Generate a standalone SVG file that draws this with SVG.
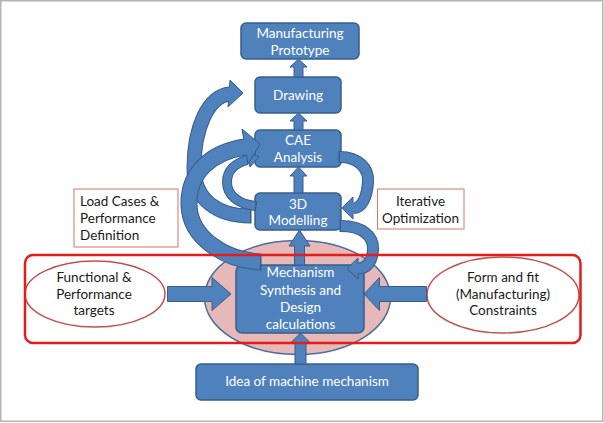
<svg xmlns="http://www.w3.org/2000/svg" width="604" height="423" viewBox="0 0 604 423">
<style>
.bx{fill:#4f81bd;stroke:#385d8a;stroke-width:1.5}
.wt{fill:#ffffff;font-family:Lato,"Liberation Sans",sans-serif;font-size:13.5px;text-anchor:middle}
.bt{fill:#1a1a1a;font-family:Lato,"Liberation Sans",sans-serif;font-size:13.5px}
.nt{fill:#ffffff;stroke:#d9736f;stroke-width:1}
.el{fill:#ffffff;stroke:#c0504d;stroke-width:1.5}
.ar{fill:#4f81bd;stroke:#385d8a;stroke-width:1;stroke-linejoin:round}
.ao{fill:none;stroke:#385d8a}
.ai{fill:none;stroke:#4f81bd}
</style>
<rect x="0" y="0" width="604" height="423" fill="#ffffff"/>
<rect x="0.75" y="0.75" width="602" height="420.5" fill="none" stroke="#b4b4b4" stroke-width="1.5"/>

<g id="core-zone">
<ellipse cx="297.5" cy="297.5" rx="93" ry="57" fill="#e6b9b8" stroke="#4a6c9e" stroke-width="1.5"/>
</g>

<g id="functional-targets">
<ellipse class="el" cx="95" cy="294" rx="70" ry="33"/>
<text class="bt" text-anchor="middle" x="94" y="281.5">Functional &amp;</text>
<text class="bt" text-anchor="middle" x="94" y="299">Performance</text>
<text class="bt" text-anchor="middle" x="94" y="315">targets</text>
</g>

<g id="form-fit-constraints">
<ellipse class="el" cx="503" cy="295" rx="76" ry="38"/>
<text class="bt" text-anchor="middle" x="503" y="281.5">Form and fit</text>
<text class="bt" text-anchor="middle" x="503" y="299">(Manufacturing)</text>
<text class="bt" text-anchor="middle" x="503" y="315">Constraints</text>
</g>

<g id="load-cases">
<rect class="nt" x="74" y="189" width="104" height="58"/>
<text class="bt" x="80" y="206">Load Cases &amp;</text>
<text class="bt" x="80" y="223">Performance</text>
<text class="bt" x="80" y="240">Definition</text>
</g>

<g id="iterative-optimization">
<rect class="nt" x="377.5" y="189" width="86.5" height="40"/>
<text class="bt" text-anchor="middle" x="420.5" y="206">Iterative</text>
<text class="bt" text-anchor="middle" x="420.5" y="223">Optimization</text>
</g>

<g id="manufacturing-prototype">
<rect class="bx" x="241" y="23" width="118" height="36" rx="5"/>
<text class="wt" x="300" y="38">Manufacturing</text>
<text class="wt" x="300" y="54.5">Prototype</text>
</g>

<g id="drawing">
<rect class="bx" x="255" y="77" width="86" height="36" rx="5"/>
<text class="wt" x="298" y="100">Drawing</text>
</g>

<g id="cae-analysis">
<rect class="bx" x="255" y="130" width="86" height="37" rx="5"/>
<text class="wt" x="298" y="145">CAE</text>
<text class="wt" x="298" y="162">Analysis</text>
</g>

<g id="modelling-3d">
<rect class="bx" x="255" y="193" width="86" height="37" rx="5"/>
<text class="wt" x="298" y="208.5">3D</text>
<text class="wt" x="298" y="225">Modelling</text>
</g>

<g id="mechanism-synthesis">
<rect class="bx" x="236" y="265" width="128" height="68" rx="6"/>
<text class="wt" x="300.5" y="277">Mechanism</text>
<text class="wt" x="300.5" y="294.5">Synthesis and</text>
<text class="wt" x="300.5" y="312">Design</text>
<text class="wt" x="300.5" y="329">calculations</text>
</g>

<g id="idea-machine">
<rect class="bx" x="196" y="364" width="222" height="36" rx="5"/>
<text class="wt" x="307" y="386">Idea of machine mechanism</text>
</g>

<g id="connectors">
<polygon class="ar" points="298.5,59 307,67 303,67 303,77 294,77 294,67 290,67"/>
<polygon class="ar" points="298.5,113 307,121 303,121 303,130 294,130 294,121 290,121"/>
<polygon class="ar" points="298.5,167 307,176 303,176 303,193 294,193 294,176 290,176"/>
<polygon class="ar" points="299.5,230 310,246 304.5,246 304.5,265 294.5,265 294.5,246 289,246"/>
<polygon class="ar" points="300.5,333 310.5,343 306,343 306,364 295,364 295,343 290.5,343"/>
<polygon class="ar" points="231,294 212,277.5 212,286.5 167.5,286.5 167.5,301.5 212,301.5 212,310.5"/>
<polygon class="ar" points="364,294 379.5,277.5 379.5,286.5 426.5,286.5 426.5,301.5 379.5,301.5 379.5,310.5"/>

<g id="arrow-3d-to-drawing">
<path class="ao" stroke-width="15" d="M251.5,216 L250,216 C218,216 194,200 194,168 C194,128 208,96 230,94"/>
<polygon class="ar" points="230,80 243,93 228,107"/>
<path class="ai" stroke-width="13" d="M250,216 C218,216 194,200 194,168 C194,128 208,96 230,94 L233,93.7"/>
</g>
<g id="arrow-3d-to-cae">
<path class="ao" stroke-width="10" d="M256.5,206.2 L255,206 C238,204 227,195 227,182 C227,170 236,163 247,160"/>
<polygon class="ar" points="246,151 259,157 250,167"/>
<path class="ai" stroke-width="8" d="M255,206 C238,204 227,195 227,182 C227,170 236,163 247,160 L250,159.2"/>
</g>
<g id="arrow-mechanism-to-cae">
<path class="ao" stroke-width="17" d="M261.5,262 L260,262 C225,260 190,238 189,205 C188,172 212,152 245,147"/>
<polygon class="ar" points="242,129 260,144 248,164"/>
<path class="ai" stroke-width="15" d="M260,262 C225,260 190,238 189,205 C188,172 212,152 245,147 L248,146.5"/>
</g>
<g id="arrow-cae-to-3d">
<path class="ao" stroke-width="12" d="M338.5,157 L340,157 C358,157 369,168 368,182 C367,197 362,208 354,208"/>
<polygon class="ar" points="353,197 342,208 353,219"/>
<path class="ai" stroke-width="10" d="M340,157 C358,157 369,168 368,182 C367,197 362,208 354,208 L351,208"/>
</g>
<g id="arrow-3d-to-mechanism">
<path class="ao" stroke-width="12" d="M339.5,226 L341,226 C362,226 374,236 373,250 C372,262 367,268.5 358,268.5"/>
<polygon class="ar" points="358,258 347,268.5 358,279"/>
<path class="ai" stroke-width="10" d="M341,226 C362,226 374,236 373,250 C372,262 367,268.5 358,268.5 L355,268.5"/>
</g>
</g>

<g id="scope-frame">
<rect x="25" y="255" width="555.5" height="88" rx="8" fill="none" stroke="#e31c1c" stroke-width="2.5"/>
</g>
</svg>
